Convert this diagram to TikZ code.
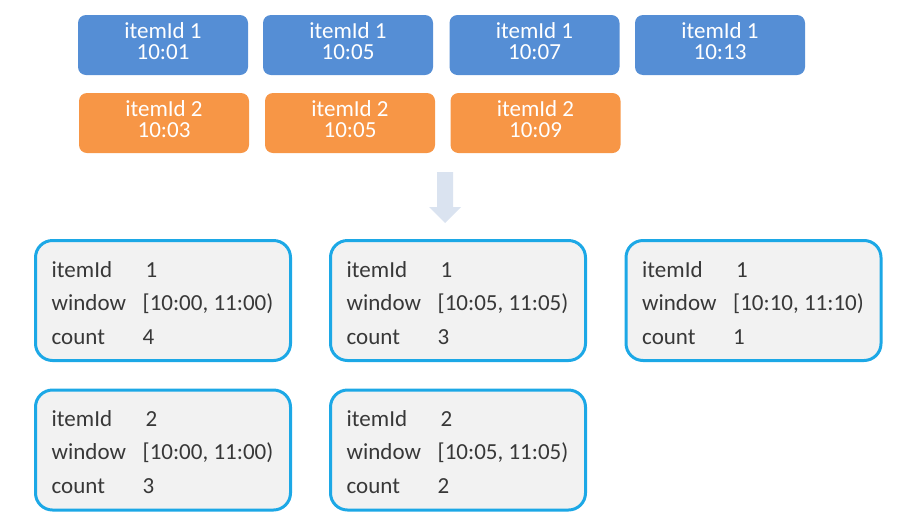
\documentclass[tikz,border=0pt]{standalone}
\usepackage{fontspec}
\setmainfont{Carlito}
\definecolor{evblue}{HTML}{558ED5}
\definecolor{evorange}{HTML}{F79646}
\definecolor{winborder}{HTML}{1CA8E6}
\definecolor{winfill}{HTML}{F2F2F2}
\definecolor{wintext}{HTML}{383838}
\definecolor{arrowfill}{HTML}{DAE3F0}
\begin{document}
\begin{tikzpicture}[x=1pt,y=-1pt,
  event/.style={rounded corners=8pt, inner sep=0pt, minimum width=170pt, minimum height=60pt},
  blueevt/.style={event, fill=evblue},
  orangeevt/.style={event, fill=evorange},
  evtext/.style={text=white, align=center, inner sep=0pt, font=\fontsize{23}{21}\selectfont},
  winbox/.style={draw=winborder, line width=3pt, fill=winfill, rounded corners=17pt,
    minimum width=255pt, minimum height=120pt, inner sep=0pt},
  wtxt/.style={anchor=base west, inner sep=0pt, text=wintext, font=\fontsize{23}{26}\selectfont}
]
\useasboundingbox (0,0) rectangle (907,528);
% events
\newcommand{\evat}[5]{%
  \node[#2] (#1) at (#3,#4) {};
  \node[evtext] (#1-t) at ([yshift=3.5pt]#1.center) {#5};
}
\evat{b1}{blueevt}{163}{45}{itemId 1\\10:01}
\evat{b2}{blueevt}{348}{45}{itemId 1\\10:05}
\evat{b3}{blueevt}{534.5}{45}{itemId 1\\10:07}
\evat{b4}{blueevt}{720}{45}{itemId 1\\10:13}
\evat{o1}{orangeevt}{164}{123}{itemId 2\\10:03}
\evat{o2}{orangeevt}{350}{123}{itemId 2\\10:05}
\evat{o3}{orangeevt}{535.5}{123}{itemId 2\\10:09}
% arrow
\fill[arrowfill] (437,172) -- (453,172) -- (453,207) -- (461,207) -- (445,223) -- (429,207) -- (437,207) -- cycle;
% windows
\newcommand{\winboxat}[6]{%
  \node[winbox] (#1) at (#2,#3) {};
  \node[wtxt] (#1-l1) at ([xshift=17.5pt,yshift=-38pt]#1.north west) {itemId};
  \node[wtxt] (#1-v1) at ([xshift=111.5pt,yshift=-38pt]#1.north west) {#4};
  \node[wtxt] (#1-l2) at ([xshift=17.5pt,yshift=-71pt]#1.north west) {window};
  \node[wtxt] (#1-v2) at ([xshift=108.5pt,yshift=-71pt]#1.north west) {#5};
  \node[wtxt] (#1-l3) at ([xshift=17.5pt,yshift=-105pt]#1.north west) {count};
  \node[wtxt] (#1-v3) at ([xshift=108.5pt,yshift=-105pt]#1.north west) {#6};
}
\winboxat{w1}{163}{300.5}{1}{[10:00, 11:00)}{4}
\winboxat{w2}{458}{300.5}{1}{[10:05, 11:05)}{3}
\winboxat{w3}{753.5}{300.5}{1}{[10:10, 11:10)}{1}
\winboxat{w4}{163}{450}{2}{[10:00, 11:00)}{3}
\winboxat{w5}{458}{450}{2}{[10:05, 11:05)}{2}
\end{tikzpicture}
\end{document}
